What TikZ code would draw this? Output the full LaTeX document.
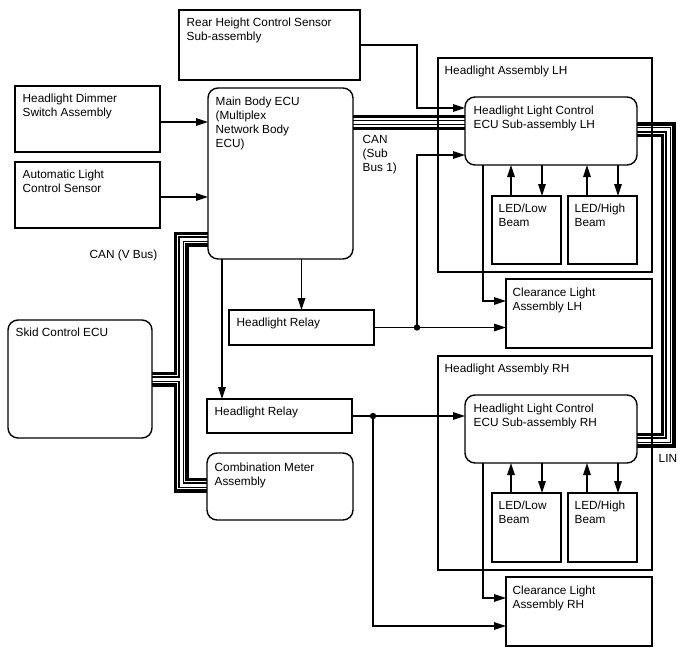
\documentclass[tikz,border=0pt]{standalone}
\usepackage{fontspec}
\setmainfont{Liberation Sans}
\usetikzlibrary{arrows.meta,backgrounds}

\begin{document}
\begin{tikzpicture}[x=1pt, y=-1pt, line width=1.4pt,
        box/.style={draw, rectangle, inner sep=0pt, outer sep=0pt},
        ecu/.style={box, rounded corners=10pt},
        txt/.style={anchor=north west, inner sep=0pt, align=left, font=\fontsize{11.8}{14}\selectfont},
        arr/.style={-{Triangle[length=12pt,width=7.5pt]}},
        bus/.style={line width=15pt, postaction={draw=white, line width=8.5pt},
            postaction={draw=black, line width=5.5pt}, postaction={draw=white, line width=3pt}}]
                \useasboundingbox (0,0) rectangle (688,658);
                % Boxes on the left:
                \node[box, minimum width=181, minimum height=70](rhs) at (269.5,45){};
                \node[txt](rhs-t) at ([shift={(7,7)}]rhs.north west){Rear Height Control Sensor\\Sub-assembly};
                \node[box, minimum width=145, minimum height=66](dim) at (87.5,119){};
                \node[txt](dim-t) at ([shift={(7,7)}]dim.north west){Headlight Dimmer\\Switch Assembly};
                \node[box, minimum width=145, minimum height=66](als) at (87.5,195){};
                \node[txt](als-t) at ([shift={(7,7)}]als.north west){Automatic Light\\Control Sensor};
                \node[ecu, minimum width=145, minimum height=171](mbe) at (280.5,173.5){};
                \node[txt](mbe-t) at ([shift={(7,8)}]mbe.north west){Main Body ECU\\(Multiplex\\Network Body\\ECU)};
                \node[ecu, minimum width=144, minimum height=118](skid) at (80,379){};
                \node[txt](skid-t) at ([shift={(7,7)}]skid.north west){Skid Control ECU};
                \node[box, minimum width=145, minimum height=35](rly1) at (301.5,327.5){};
                \node[txt](rly1-t) at ([shift={(7,7)}]rly1.north west){Headlight Relay};
                \node[box, minimum width=145, minimum height=34](rly2) at (279.5,416){};
                \node[txt](rly2-t) at ([shift={(7,7)}]rly2.north west){Headlight Relay};
                \node[ecu, minimum width=146, minimum height=67](meter) at (280,486.5){};
                \node[txt](meter-t) at ([shift={(7,9)}]meter.north west){Combination Meter\\Assembly};
                % Headlight LH:
                \node[box, minimum width=214, minimum height=214](hlL) at (545,165){};
                \node[txt](hlL-t) at ([shift={(6,7)}]hlL.north west){Headlight Assembly LH};
                \node[ecu, minimum width=172, minimum height=68](ecuL) at (551,131){};
                \node[txt](ecuL-t) at ([shift={(8,8)}]ecuL.north west){Headlight Light Control\\ECU Sub-assembly LH};
                \node[box, minimum width=69, minimum height=68](lowL) at (526.5,230){};
                \node[txt](lowL-t) at ([shift={(6,7)}]lowL.north west){LED/Low\\Beam};
                \node[box, minimum width=69, minimum height=68](highL) at (602.5,230){};
                \node[txt](highL-t) at ([shift={(6,7)}]highL.north west){LED/High\\Beam};
                \node[box, minimum width=146, minimum height=69](clrL) at (579,313.5){};
                \node[txt](clrL-t) at ([shift={(6,8)}]clrL.north west){Clearance Light\\Assembly LH};
                % Headlight RH:
                \node[box, minimum width=214, minimum height=214](hlR) at (545,463){};
                \node[txt](hlR-t) at ([shift={(6,7)}]hlR.north west){Headlight Assembly RH};
                \node[ecu, minimum width=172, minimum height=68](ecuR) at (551,429){};
                \node[txt](ecuR-t) at ([shift={(8,8)}]ecuR.north west){Headlight Light Control\\ECU Sub-assembly RH};
                \node[box, minimum width=69, minimum height=69](lowR) at (526.5,527.5){};
                \node[txt](lowR-t) at ([shift={(6,7)}]lowR.north west){LED/Low\\Beam};
                \node[box, minimum width=69, minimum height=69](highR) at (602.5,527.5){};
                \node[txt](highR-t) at ([shift={(6,7)}]highR.north west){LED/High\\Beam};
                \node[box, minimum width=146, minimum height=69](clrR) at (579,611.5){};
                \node[txt](clrR-t) at ([shift={(6,8)}]clrR.north west){Clearance Light\\Assembly RH};
                % Bus labels:
                \node[txt](can-v) at (89,249){CAN (V Bus)};
                \node[txt](can-sub) at (362,135){CAN\\(Sub\\Bus 1)};
                \node[txt](lin) at (658,454){LIN};
                % Buses, behind the boxes:
                \begin{scope}[on background layer]
                \draw[bus] (mbe.east |- 0,122.5) -- (ecuL.west |- 0,122.5);
                \draw[bus] (mbe.west |- 0,239) -| (181,485) -- (meter.west |- 0,485)
                    (skid.east |- 0,379) -- (181,379);
                \draw[bus] (ecuL.east |- 0,130) -| (668,440) -- (ecuR.east |- 0,440);
                \end{scope}
                % Wires:
                \coordinate (j1) at (417,327.5);
                \coordinate (j2) at (373,416);
                \draw[arr] (dim.east |- 0,122) -- (mbe.west |- 0,122);
                \draw[arr] (als.east |- 0,197) -- (mbe.west |- 0,197);
                \draw[arr] (rhs.east) -| (417,108) -- (ecuL.west |- 0,108);
                \draw[arr] (mbe.south -| rly1.north) -- (rly1.north);
                \draw[arr] (mbe.south -| 222,0) -- (rly2.north -| 222,0);
                \draw[arr] (rly1.east) -- (rly1.east -| clrL.west);
                \draw[arr] (j1) |- (ecuL.west |- 0,155);
                \fill (j1) circle (3.2pt);
                \draw[arr] (rly2.east) -- (rly2.east -| ecuR.west);
                \draw[arr] (j2) |- (clrR.west |- 0,626);
                \fill (j2) circle (3.2pt);
                \draw[arr] (ecuL.south -| 483,0) |- (clrL.west |- 0,301);
                \draw[arr] (ecuR.south -| 483,0) |- (clrR.west |- 0,598);
                \draw[arr] (lowL.north -| 511,0) -- (ecuL.south -| 511,0);
                \draw[arr] (ecuL.south -| 542,0) -- (lowL.north -| 542,0);
                \draw[arr] (highL.north -| 587,0) -- (ecuL.south -| 587,0);
                \draw[arr] (ecuL.south -| 618,0) -- (highL.north -| 618,0);
                \draw[arr] (lowR.north -| 511,0) -- (ecuR.south -| 511,0);
                \draw[arr] (ecuR.south -| 542,0) -- (lowR.north -| 542,0);
                \draw[arr] (highR.north -| 587,0) -- (ecuR.south -| 587,0);
                \draw[arr] (ecuR.south -| 618,0) -- (highR.north -| 618,0);
            \end{tikzpicture}
\end{document}
